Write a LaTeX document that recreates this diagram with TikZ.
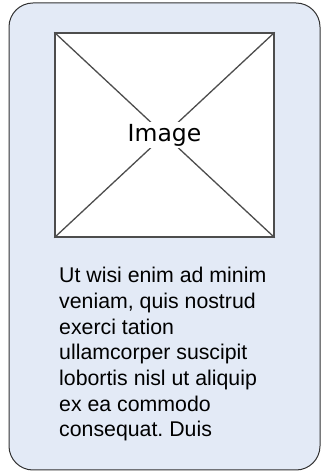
\documentclass[tikz,border=0pt]{standalone}
\usepackage{fontspec}
\setmainfont{Liberation Sans}
\newfontfamily\imgfont{DejaVu Sans}
\frenchspacing
\definecolor{cardfill}{HTML}{E3EAF6}
\definecolor{cardline}{HTML}{333333}
\definecolor{imgline}{HTML}{4D4D4D}
\begin{document}
\begin{tikzpicture}[x=1pt, y=1pt,
    card/.style={draw=cardline, fill=cardfill, line width=1pt, rounded corners=24pt},
    imgbox/.style={rectangle, draw=imgline, fill=white, line width=1.3pt, minimum width=219pt, minimum height=204pt, inner sep=0pt},
    bodytext/.style={align=left, inner sep=0pt, anchor=north west, font=\fontsize{21.3}{25.7}\selectfont}]
    \useasboundingbox (0,0) rectangle (330,473);
    \draw[card] (9,3) rectangle (320,470);
    \node[imgbox] (img) at (164.5,338) {};
    \draw[imgline, line width=1.3pt] (img.north west) -- (img.south east);
    \draw[imgline, line width=1.3pt] (img.south west) -- (img.north east);
    \node[fill=white, inner sep=2pt, font=\imgfont\fontsize{23.5}{26}\selectfont] (imglabel) at (img) {Image};
    \node[bodytext] (body) at (59,206) {
    Ut wisi enim ad minim \\
    veniam, quis nostrud \\
    exerci tation \\
    ullamcorper suscipit \\
    lobortis nisl ut aliquip \\
    ex ea commodo \\
    consequat. Duis
    };
\end{tikzpicture}
\end{document}
